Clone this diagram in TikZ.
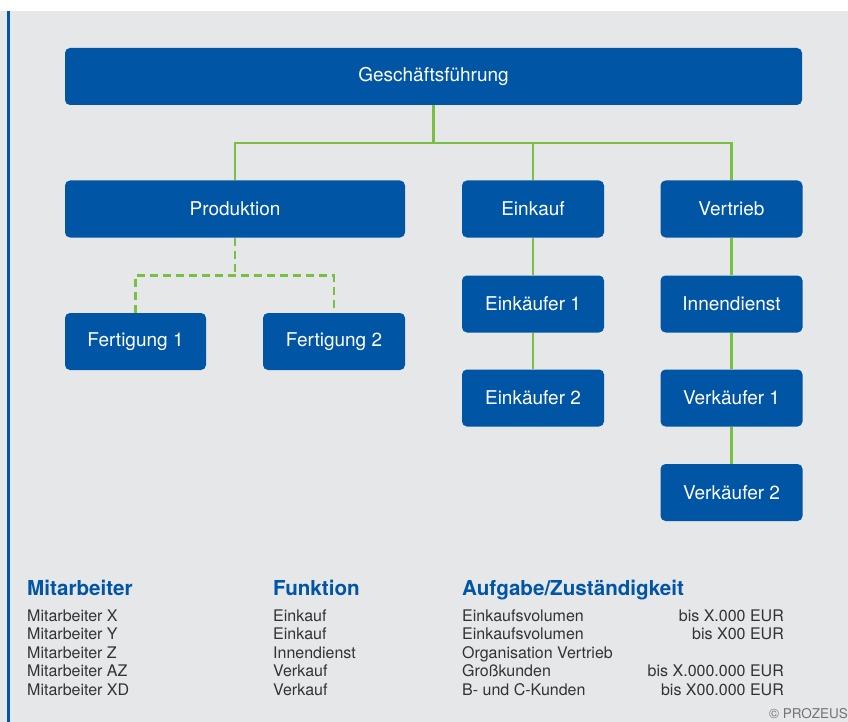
\documentclass[tikz,border=0pt]{standalone}
\usepackage{fontspec}
\setmainfont{TeX Gyre Heros}
\usepackage{tikz}
\usetikzlibrary{calc}

\definecolor{pzblue}{HTML}{0055A5}
\definecolor{pzgreen}{HTML}{78C043}
\definecolor{pzgray}{HTML}{E6E7E9}
\definecolor{pztext}{HTML}{333333}

\tikzset{
  unit/.style={fill=pzblue,text=white,rounded corners=5pt,inner sep=0pt,
    minimum height=57pt,font=\fontsize{19}{21}\selectfont},
  orgline/.style={pzgreen,line width=2.6pt},
  dotline/.style={pzgreen,line width=2.6pt,dash pattern=on 8pt off 5pt},
  head/.style={anchor=base west,text=pzblue,inner sep=0pt,font=\fontsize{20.6}{23}\bfseries},
  row/.style={anchor=base west,text=pztext,inner sep=0pt,font=\fontsize{16}{18}\selectfont},
  rowr/.style={row,anchor=base east}
}

\begin{document}
\begin{tikzpicture}[x=1pt,y=-1pt]
  \useasboundingbox (0,0) rectangle (848,722);
  \fill[pzgray] (0,11) rectangle (848,722);
  \draw[pzblue,line width=3pt] (8.5,11) -- (8.5,722);

  % Leitung
  \node[unit,minimum width=737pt] (gf) at (433.5,76.5) {Geschäftsführung};
  % Abteilungen
  \node[unit,minimum width=340pt] (prod) at (235,209) {Produktion};
  \node[unit,minimum width=142pt] (ek) at (533,209) {Einkauf};
  \node[unit,minimum width=142pt] (vt) at (731.5,209) {Vertrieb};
  % Stellen
  \node[unit,minimum width=141pt] (fert1) at (135.5,341.5) {Fertigung 1};
  \node[unit,minimum width=142pt] (fert2) at (334,341.5) {Fertigung 2};
  \node[unit,minimum width=142pt] (ek1) at (533,304) {Einkäufer 1};
  \node[unit,minimum width=142pt] (ek2) at (533,398) {Einkäufer 2};
  \node[unit,minimum width=142pt] (innen) at (731.5,304) {Innendienst};
  \node[unit,minimum width=142pt] (vk1) at (731.5,398) {Verkäufer 1};
  \node[unit,minimum width=142pt] (vk2) at (731.5,492.5) {Verkäufer 2};

  % Verbindungen
  \coordinate (bus) at ($(gf.south)+(0,38)$);
  \draw[orgline] (gf.south) -- (bus);
  \draw[orgline] (prod.north) -- (prod.north |- bus) -- (vt.north |- bus) -- (vt.north);
  \draw[orgline] (ek.north |- bus) -- (ek.north);
  \draw[orgline] (ek.south) -- (ek1.north);
  \draw[orgline] (ek1.south) -- (ek2.north);
  \draw[orgline] (vt.south) -- (innen.north);
  \draw[orgline] (innen.south) -- (vk1.north);
  \draw[orgline] (vk1.south) -- (vk2.north);
  \coordinate (fbus) at ($(prod.south)+(0,38)$);
  \draw[dotline] (prod.south) -- (fbus);
  \draw[dotline] (fert1.north) -- (fert1.north |- fbus) -- (fert2.north |- fbus) -- (fert2.north);

  % Tabelle
  \node[head] (hma) at (27,595) {Mitarbeiter};
  \node[head] (hfk) at (273,595) {Funktion};
  \node[head] (haz) at (462,595) {Aufgabe/Zuständigkeit};

  \node[row] (ma1) at (27,621) {Mitarbeiter X};
  \node[row] (ma2) at (27,639.5) {Mitarbeiter Y};
  \node[row] (ma3) at (27,658) {Mitarbeiter Z};
  \node[row] (ma4) at (27,676.5) {Mitarbeiter AZ};
  \node[row] (ma5) at (27,695) {Mitarbeiter XD};

  \node[row] (fk1) at (273,621) {Einkauf};
  \node[row] (fk2) at (273,639.5) {Einkauf};
  \node[row] (fk3) at (273,658) {Innendienst};
  \node[row] (fk4) at (273,676.5) {Verkauf};
  \node[row] (fk5) at (273,695) {Verkauf};

  \node[row] (az1) at (462,621) {Einkaufsvolumen};
  \node[row] (az2) at (462,639.5) {Einkaufsvolumen};
  \node[row] (az3) at (462,658) {Organisation Vertrieb};
  \node[row] (az4) at (462,676.5) {Großkunden};
  \node[row] (az5) at (462,695) {B- und C-Kunden};

  \node[rowr] (bis1) at (784,621) {bis X.000 EUR};
  \node[rowr] (bis2) at (784,639.5) {bis X00 EUR};
  \node[rowr] (bis4) at (784,676.5) {bis X.000.000 EUR};
  \node[rowr] (bis5) at (784,695) {bis X00.000 EUR};

  \node[anchor=base west,inner sep=0pt,text=black!55,font=\fontsize{13.5}{15}\selectfont] (copy) at (769,718) {© PROZEUS};
\end{tikzpicture}
\end{document}
